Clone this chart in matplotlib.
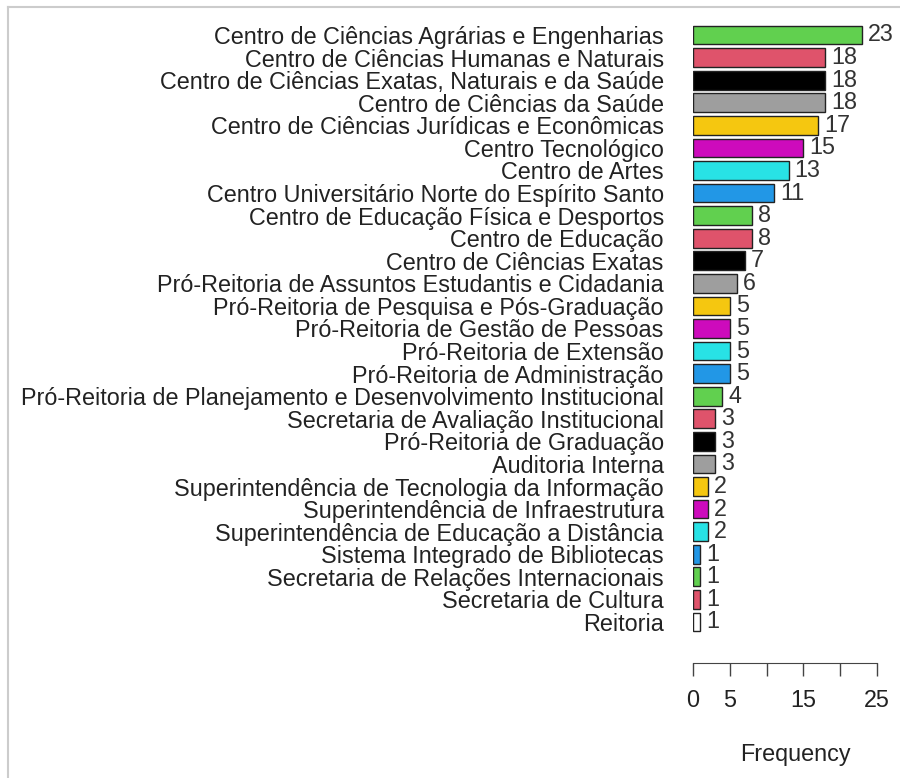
import numpy as np
import matplotlib.pyplot as plt

# Frequency of each unit (R barplot, horizontal)
units = [
    "Centro de Ciências Agrárias e Engenharias",
    "Centro de Ciências Humanas e Naturais",
    "Centro de Ciências Exatas, Naturais e da Saúde",
    "Centro de Ciências da Saúde",
    "Centro de Ciências Jurídicas e Econômicas",
    "Centro Tecnológico",
    "Centro de Artes",
    "Centro Universitário Norte do Espírito Santo",
    "Centro de Educação Física e Desportos",
    "Centro de Educação",
    "Centro de Ciências Exatas",
    "Pró-Reitoria de Assuntos Estudantis e Cidadania",
    "Pró-Reitoria de Pesquisa e Pós-Graduação",
    "Pró-Reitoria de Gestão de Pessoas",
    "Pró-Reitoria de Extensão",
    "Pró-Reitoria de Administração",
    "Pró-Reitoria de Planejamento e Desenvolvimento Institucional",
    "Secretaria de Avaliação Institucional",
    "Pró-Reitoria de Graduação",
    "Auditoria Interna",
    "Superintendência de Tecnologia da Informação",
    "Superintendência de Infraestrutura",
    "Superintendência de Educação a Distância",
    "Sistema Integrado de Bibliotecas",
    "Secretaria de Relações Internacionais",
    "Secretaria de Cultura",
    "Reitoria",
]
freq = [23, 18, 18, 18, 17, 15, 13, 11, 8, 8, 7, 6, 5, 5, 5, 5, 4, 3, 3, 3, 2, 2, 2, 1, 1, 1, 1]

# R default palette (cycled), last bar white
r_palette = ["#61D04F", "#DF536B", "#000000", "#9E9E9E",
             "#F5C710", "#CD0BBC", "#28E2E5", "#2297E6"]
colors = [r_palette[i % 8] for i in range(len(units) - 1)] + ["white"]

xticks = [0, 5, 10, 15, 20, 25]
xticklabels = ["0", "5", "", "15", "", "25"]

plt.rcParams['font.family'] = ['Liberation Sans', 'DejaVu Sans']
FS = 16.8

W, H = 900, 778
fig = plt.figure(figsize=(9, 7.78), dpi=100)

# axes placement in pixels: x=0 at 693px, 25 at 877px; bar centres 35px..622px
px_unit = (877 - 693) / 25
x0, x1 = 0, 28
left_px = 693
right_px = left_px + (x1 - x0) * px_unit
pitch = (622 - 35) / 26
y_lo, y_hi = -0.7, 26.7
top_px = 35 + pitch * y_lo
bot_px = 35 + pitch * y_hi
ax = fig.add_axes([left_px / W, 1 - bot_px / H,
                   (right_px - left_px) / W, (bot_px - top_px) / H])

y = np.arange(len(units))
ax.barh(y, freq, height=0.83, color=colors, edgecolor='#222222', linewidth=1.0)

for yi, v in zip(y, freq):
    ax.text(v + 0.8, yi, str(v), va='center', ha='left', fontsize=FS, color='#333333')

ax.set_xlim(x0, x1)
ax.set_ylim(y_hi, y_lo)

ax.set_yticks(y)
ax.set_yticklabels(units, fontsize=FS, color='#222222')
ax.tick_params(axis='y', length=0, pad=21)

for s in ['top', 'right', 'left']:
    ax.spines[s].set_visible(False)
ax.spines['bottom'].set_position(('outward', (663 - bot_px) * 72 / 100))
ax.spines['bottom'].set_bounds(0, 25)
ax.spines['bottom'].set_color('#444444')
ax.set_xticks(xticks)
ax.set_xticklabels(xticklabels, fontsize=FS, color='#222222')
ax.tick_params(axis='x', length=9.5, width=1.0, color='#444444', pad=9)

fig.text(795 / W, 1 - 755 / H, "Frequency", ha='center', va='center',
         fontsize=FS, color='#222222')

# thin frame lines of the screenshot
fig.add_artist(plt.Line2D([8 / W, 8 / W], [0, 1 - 7 / H], color='#cccccc', lw=1.5))
fig.add_artist(plt.Line2D([8 / W, 1], [1 - 7 / H, 1 - 7 / H], color='#cccccc', lw=1.5))

fig.savefig("out.png", dpi=100)
